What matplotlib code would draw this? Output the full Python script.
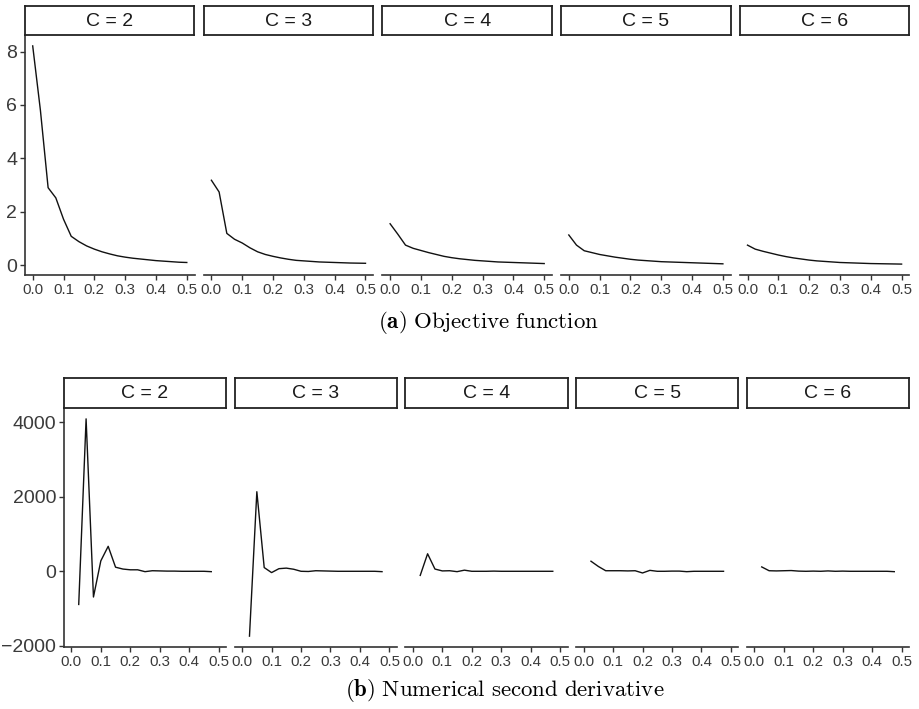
import matplotlib
matplotlib.use("Agg")
import matplotlib.pyplot as plt
import numpy as np

plt.rcParams['font.family'] = ['Liberation Sans', 'DejaVu Sans']
plt.rcParams['mathtext.fontset'] = 'cm'

# Data
clusters = [2, 3, 4, 5, 6]
x_obj = [0.0, 0.025, 0.05, 0.075, 0.1, 0.125, 0.15, 0.175, 0.2, 0.225, 0.25,
         0.275, 0.3, 0.325, 0.35, 0.375, 0.4, 0.425, 0.45, 0.475, 0.5]
obj_c2 = [8.21, 5.80, 2.90, 2.52, 1.72, 1.08, 0.88, 0.72, 0.60, 0.50, 0.42,
          0.35, 0.30, 0.26, 0.23, 0.20, 0.17, 0.15, 0.13, 0.11, 0.10]
obj_c3 = [3.18, 2.74, 1.19, 0.97, 0.83, 0.65, 0.50, 0.40, 0.33, 0.27, 0.22,
          0.18, 0.16, 0.14, 0.12, 0.11, 0.10, 0.09, 0.08, 0.075, 0.07]
obj_c4 = [1.55, 1.16, 0.75, 0.63, 0.55, 0.47, 0.40, 0.33, 0.28, 0.24, 0.21,
          0.18, 0.16, 0.14, 0.12, 0.11, 0.10, 0.09, 0.08, 0.07, 0.06]
obj_c5 = [1.13, 0.75, 0.54, 0.47, 0.40, 0.35, 0.30, 0.26, 0.22, 0.19, 0.17,
          0.15, 0.13, 0.12, 0.11, 0.10, 0.09, 0.08, 0.07, 0.06, 0.05]
obj_c6 = [0.75, 0.60, 0.52, 0.45, 0.38, 0.32, 0.27, 0.23, 0.19, 0.16, 0.14,
          0.12, 0.10, 0.09, 0.08, 0.07, 0.06, 0.055, 0.05, 0.045, 0.04]

x_d2 = x_obj[1:-1]
d2_c2 = [-890, 4090, -690, 280, 670, 110, 60, 40, 40, -10, 15, 10, 5, 5, 0, 0, 0, 0, -10]
d2_c3 = [-1740, 2135, 100, -35, 70, 85, 55, 0, -5, 15, 10, 5, 0, 0, 0, 0, 0, 0, -10]
d2_c4 = [-110, 470, 60, 10, 15, -10, 30, 0, 0, 0, 5, 0, 0, 0, 0, 0, 0, 0, 0]
d2_c5 = [270, 130, 15, 15, 15, 10, 15, -45, 25, 0, 0, 5, 5, -10, 0, 0, 0, 0, 0]
d2_c6 = [117, 15, 10, 15, 20, 5, 0, 5, 0, 10, 0, 5, 0, 0, 0, 0, 0, 0, -10]

x_ticks = [0.0, 0.1, 0.2, 0.3, 0.4, 0.5]
x_ticklabels = ["0.0", "0.1", "0.2", "0.3", "0.4", "0.5"]
obj_yticks = [0, 2, 4, 6, 8]
d2_yticks = [-2000, 0, 2000, 4000]

obj_series = [obj_c2, obj_c3, obj_c4, obj_c5, obj_c6]
d2_series = [d2_c2, d2_c3, d2_c4, d2_c5, d2_c6]

W, H = 920, 709
fig = plt.figure(figsize=(W / 100, H / 100), dpi=100)

axis_col = '#333333'
label_col = '#3a3a3a'


def expand(vals):
    lo, hi = min(vals), max(vals)
    pad = 0.05 * (hi - lo)
    return lo - pad, hi + pad


def draw_row(xs, series, yticks, left, width, step, ax_top, ax_bot, strip_top):
    ylim = expand([v for s in series for v in s])
    for i, (c, ys) in enumerate(zip(clusters, series)):
        x0 = left + i * step
        ax = fig.add_axes([x0 / W, 1 - ax_bot / H, width / W, (ax_bot - ax_top) / H])
        ax.plot(xs, ys, color='#111111', lw=1.0)
        ax.set_xlim(-0.025, 0.525)
        ax.set_ylim(*ylim)
        ax.set_xticks(x_ticks)
        ax.set_xticklabels(x_ticklabels)
        for s in ['top', 'right']:
            ax.spines[s].set_visible(False)
        ax.spines['bottom'].set_color(axis_col)
        ax.spines['bottom'].set_linewidth(1.2)
        ax.tick_params(axis='x', colors=axis_col, labelcolor=label_col,
                       labelsize=10.8, length=3.5, width=1.0, pad=2)
        if i == 0:
            ax.spines['left'].set_color(axis_col)
            ax.spines['left'].set_linewidth(1.2)
            ax.set_yticks(yticks)
            ax.tick_params(axis='y', colors=axis_col, labelcolor=label_col,
                           labelsize=14, length=3.5, width=1.0, pad=2)
        else:
            ax.spines['left'].set_visible(False)
            ax.set_yticks([])
        ax.patch.set_alpha(0)

        # facet strip
        sax = fig.add_axes([x0 / W, 1 - ax_top / H, width / W, (ax_top - strip_top) / H])
        sax.set_xticks([])
        sax.set_yticks([])
        for s in sax.spines.values():
            s.set_color('#222222')
            s.set_linewidth(1.3)
        sax.text(0.5, 0.47, f"C = {c}", ha='center', va='center',
                 fontsize=14, color='#1a1a1a', transform=sax.transAxes)


draw_row(x_obj, obj_series, obj_yticks, 25, 169.5, 178.7, 35, 275, 6)
draw_row(x_d2, d2_series, d2_yticks, 64, 162, 170.75, 408, 647, 378)

fig.text(488 / W, 1 - 323 / H, r"$\mathbf{(a)}$ $\mathrm{Objective\ function}$",
         ha='center', va='center', fontsize=16.5)
fig.text(505 / W, 1 - 690 / H, r"$\mathbf{(b)}$ $\mathrm{Numerical\ second\ derivative}$",
         ha='center', va='center', fontsize=16.5)

fig.savefig("out.png", dpi=100)
